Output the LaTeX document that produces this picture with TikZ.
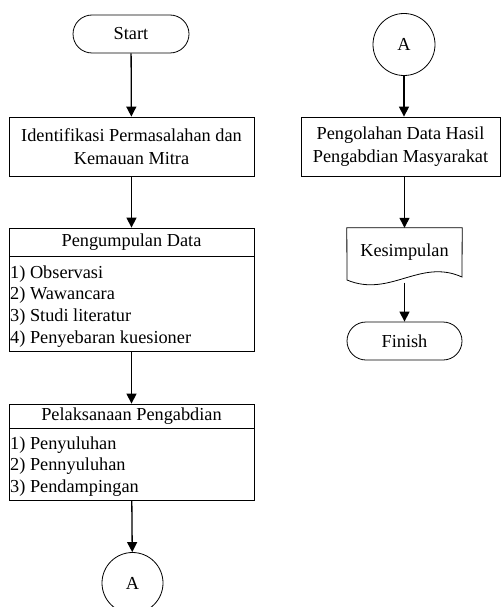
\documentclass[tikz,border=0pt]{standalone}
\usepackage{fontspec}
\setmainfont{Liberation Serif}
\usetikzlibrary{arrows.meta}
\begin{document}
\begin{tikzpicture}[x=1pt,y=-1pt,
  font=\fontsize{18.3}{23}\selectfont,
  box/.style={draw, line width=0.8pt, inner sep=0pt, align=center},
  term/.style={box, rounded corners=19pt, minimum width=116pt, minimum height=38pt},
  conn/.style={box, circle, minimum size=62pt},
  arr/.style={-{Triangle[width=10pt,length=10pt]}, line width=1.3pt},
  item/.style={anchor=base west, inner sep=0pt}]
\useasboundingbox (0,0) rectangle (501,607);
\clip (0,0) rectangle (501,607);
% left column
\node[term] (start) at (131,34) {Start};
\node[box, minimum width=245pt, minimum height=59pt] (ident) at (131.5,146.5) {Identifikasi Permasalahan dan\\Kemauan Mitra};
\node[box, minimum width=245pt, minimum height=28pt] (pd) at (131.5,242) {Pengumpulan Data};
\node[box, anchor=north, minimum width=245pt, minimum height=95pt] (pdbody) at (pd.south) {};
\node[item] (pd1) at (10,278) {1) Observasi};
\node[item] (pd2) at (10,299.7) {2) Wawancara};
\node[item] (pd3) at (10,321.4) {3) Studi literatur};
\node[item] (pd4) at (10,343.1) {4) Penyebaran kuesioner};
\node[box, minimum width=245pt, minimum height=24pt] (pl) at (131.5,416) {Pelaksanaan Pengabdian};
\node[box, anchor=north, minimum width=245pt, minimum height=72pt] (plbody) at (pl.south) {};
\node[item] (pl1) at (10,449) {1) Penyuluhan};
\node[item] (pl2) at (10,470.5) {2) Pennyuluhan};
\node[item] (pl3) at (10,492) {3) Pendampingan};
\node[conn, minimum size=61pt] (a1) at (132.5,583) {A};
\draw[arr] (start) -- (ident);
\draw[arr] (ident) -- (pd);
\draw[arr] (pdbody) -- (pl);
\draw[arr] (plbody) -- (a1);
% right column
\node[conn] (a2) at (404,44.5) {A};
\node[box, minimum width=199pt, minimum height=59pt] (olah) at (400.5,146.5) {Pengolahan Data Hasil\\Pengabdian Masyarakat};
\node[inner sep=0pt, minimum width=115pt, minimum height=49pt] (doc) at (404.5,252.5) {Kesimpulan};
\coordinate (docbr) at (462,277);
\coordinate (docbl) at (347,280);
\coordinate (docb) at (404.5,282.5);
\draw[line width=0.8pt] (doc.north west) -- (doc.north east) -- (docbr)
  .. controls (420,258) and (390,298) .. (docbl) -- cycle;
\node[term, minimum width=115pt] (finish) at (404.5,341) {Finish};
\draw[arr] (a2) -- (a2.south |- olah.north);
\draw[arr] (doc.north |- olah.south) -- (doc.north);
\draw[arr] (docb) -- (finish);
\end{tikzpicture}
\end{document}
